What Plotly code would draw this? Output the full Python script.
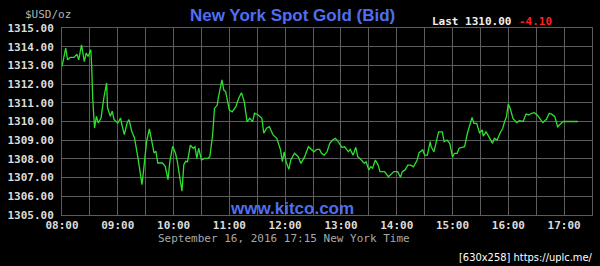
import plotly.graph_objects as go

DATE = "2016-09-16"
times = ["08:00","08:04","08:06","08:09","08:13","08:16","08:18","08:21","08:24","08:26","08:28","08:31","08:32","08:33","08:35","08:37","08:39","08:42","08:45","08:48","08:49","08:52","08:54","08:56",
"09:00","09:03","09:04","09:07","09:10","09:12","09:15","09:18","09:22","09:26","09:28","09:31","09:34","09:36","09:39","09:41","09:43","09:48","09:51","09:54","09:56","09:59",
"10:02","10:04","10:06","10:09","10:11","10:13","10:15","10:18","10:21","10:23","10:25","10:27","10:30","10:33","10:37","10:39","10:42","10:44","10:47","10:48","10:52","10:54","10:56",
"11:00","11:03","11:07","11:10","11:13","11:16","11:19","11:22","11:25","11:27","11:31","11:35","11:37","11:40","11:43","11:47","11:51","11:55","11:57","11:59",
"12:01","12:04","12:06","12:10","12:14","12:17","12:21","12:25","12:29","12:31","12:34","12:37","12:39","12:42","12:45","12:48","12:51","12:54","12:57",
"13:01","13:04","13:08","13:10","13:13","13:16","13:18","13:22","13:25","13:27","13:30","13:32","13:34","13:37","13:40","13:42","13:47","13:51","13:55","13:57",
"14:01","14:04","14:06","14:09","14:12","14:15","14:18","14:22","14:24","14:28","14:30","14:33","14:36","14:37","14:40","14:43","14:45","14:49","14:51","14:54","14:57",
"15:00","15:02","15:05","15:07","15:10","15:13","15:16","15:18","15:21","15:23","15:26","15:29","15:32","15:33","15:36","15:39","15:43","15:45","15:48","15:51","15:54","15:56","15:58",
"16:00","16:02","16:05","16:09","16:12","16:16","16:19","16:22","16:25","16:28","16:31","16:34","16:37","16:41","16:44","16:47","16:50","16:53","16:56","16:59",
"17:06","17:15"]
prices = [1312.95,1313.93,1313.30,1313.43,1313.43,1313.60,1313.30,1314.10,1313.20,1313.66,1313.48,1313.84,1312.86,1311.26,1309.65,1310.28,1309.92,1310.19,1311.26,1312.06,1310.72,1310.28,1310.55,1310.10,
1309.92,1310.19,1309.92,1309.30,1309.92,1310.10,1309.48,1309.12,1307.96,1306.62,1307.51,1308.94,1309.60,1309.12,1308.32,1308.41,1307.78,1307.78,1307.60,1306.89,1307.87,1308.67,
1308.32,1307.87,1307.25,1306.27,1307.69,1307.87,1307.85,1308.74,1308.57,1308.65,1308.03,1308.57,1307.94,1308.03,1308.03,1308.12,1309.28,1310.70,1310.88,1311.24,1312.22,1311.68,1311.60,
1310.61,1310.52,1310.79,1311.24,1311.54,1311.06,1309.99,1310.17,1309.99,1310.44,1310.35,1310.17,1309.37,1309.64,1309.72,1309.28,1309.10,1308.48,1307.85,1308.38,
1307.85,1307.44,1307.94,1308.30,1308.12,1307.76,1308.12,1308.65,1308.48,1308.38,1308.51,1308.51,1308.30,1308.20,1308.38,1308.83,1309.01,1309.10,1308.92,
1308.62,1308.65,1308.38,1308.51,1308.20,1308.62,1308.12,1307.94,1307.76,1307.85,1307.41,1307.58,1307.50,1307.94,1307.67,1307.32,1307.32,1307.05,1307.23,1307.32,
1307.32,1307.02,1307.32,1307.41,1307.67,1307.67,1307.58,1307.94,1308.33,1308.48,1308.20,1308.20,1308.92,1308.65,1308.38,1309.01,1309.45,1309.45,1308.92,1309.01,1308.83,
1308.09,1308.30,1308.30,1308.57,1308.62,1308.65,1309.37,1309.72,1310.22,1309.90,1309.90,1309.40,1309.55,1309.22,1309.45,1309.19,1308.83,1309.10,1309.01,1309.37,1309.64,1309.99,1310.26,
1310.94,1310.70,1310.17,1309.94,1310.04,1310.00,1310.40,1310.35,1310.44,1310.47,1310.35,1310.17,1309.94,1310.12,1310.44,1310.38,1310.26,1309.72,1309.87,1310.00,
1310.00,1310.00]

x_ticks = ["08:00","09:00","10:00","11:00","12:00","13:00","14:00","15:00","16:00","17:00"]
y_ticks = [1305,1306,1307,1308,1309,1310,1311,1312,1313,1314,1315]

title_text = "New York Spot Gold (Bid)"
last_label = "Last 1310.00"
change_label = "-4.10"
unit_label = "$USD/oz"
site_label = "www.kitco.com"
date_label = "September 16, 2016 17:15 New York Time"
watermark = "[630x258] https://uplc.me/"

xs = [f"{DATE} {t}:00" for t in times]
MONO = "DejaVu Sans Mono"
GRID = "#5c5c5c"

fig = go.Figure()
fig.add_trace(go.Scatter(x=xs, y=prices, mode="lines",
                         line=dict(color="#2ee02e", width=1.3), hoverinfo="skip"))

fig.update_layout(
    width=600, height=266,
    margin=dict(l=58, r=7, t=28, b=51),
    paper_bgcolor="black", plot_bgcolor="black",
    showlegend=False,
    xaxis=dict(
        type="date",
        range=[f"{DATE} 08:00:00", f"{DATE} 17:30:00"],
        tickvals=[f"{DATE} {t}:00" for t in x_ticks],
        ticktext=x_ticks,
        showgrid=True, gridcolor=GRID, gridwidth=1,
        minor=dict(dtick=1800000, tick0=f"{DATE} 08:00:00", showgrid=True, gridcolor=GRID, gridwidth=1),
        showline=True, linecolor=GRID, mirror=True,
        zeroline=False, ticks="", ticklabelstandoff=0,
        tickfont=dict(family=MONO, size=11, color="#dcdcdc", weight="bold"),
    ),
    yaxis=dict(
        range=[1305, 1315],
        tickvals=y_ticks,
        tickformat=".2f",
        showgrid=True, gridcolor=GRID, gridwidth=1,
        showline=True, linecolor=GRID, mirror=True,
        zeroline=False, ticks="", ticklabelstandoff=5,
        tickfont=dict(family=MONO, size=11, color="#dcdcdc", weight="bold"),
    ),
)

fig.add_annotation(text=f"<b>{title_text}</b>", xref="paper", yref="paper",
                   x=(291-58)/535, y=1+(28-16)/187, xanchor="center", yanchor="middle",
                   showarrow=False, font=dict(family="Liberation Sans", size=17, color="#4f6ef0"))
fig.add_annotation(text=f"<b>{last_label}</b>", xref="paper", yref="paper",
                   x=(429-58)/535, y=1+(28-21)/187, xanchor="left", yanchor="middle",
                   showarrow=False, font=dict(family=MONO, size=11, color="#f0f0f0"))
fig.add_annotation(text=f"<b>{change_label}</b>", xref="paper", yref="paper",
                   x=(517-58)/535, y=1+(28-21)/187, xanchor="left", yanchor="middle",
                   showarrow=False, font=dict(family=MONO, size=11, color="#ff2020"))
fig.add_annotation(text=unit_label, xref="paper", yref="paper",
                   x=(19-58)/535, y=1+(28-15)/187, xanchor="left", yanchor="middle",
                   showarrow=False, font=dict(family=MONO, size=11, color="#b4b4b4"))
fig.add_annotation(text=f"<b>{site_label}</b>", xref="paper", yref="paper",
                   x=(290-58)/535, y=-(208-215)/187, xanchor="center", yanchor="middle",
                   showarrow=False, font=dict(family="Liberation Sans", size=17, color="#4f6ef0"))
fig.add_annotation(text=date_label, xref="paper", yref="paper",
                   x=(282-58)/535, y=-(238-215)/187, xanchor="center", yanchor="middle",
                   showarrow=False, font=dict(family=MONO, size=11, color="#a8a8a8"))
fig.add_annotation(text=watermark, xref="paper", yref="paper",
                   x=(596-58)/535, y=-(257-215)/187, xanchor="right", yanchor="middle",
                   showarrow=False, font=dict(family="DejaVu Sans Condensed", size=11, color="#ffffff"))

fig.write_html("out.html")
